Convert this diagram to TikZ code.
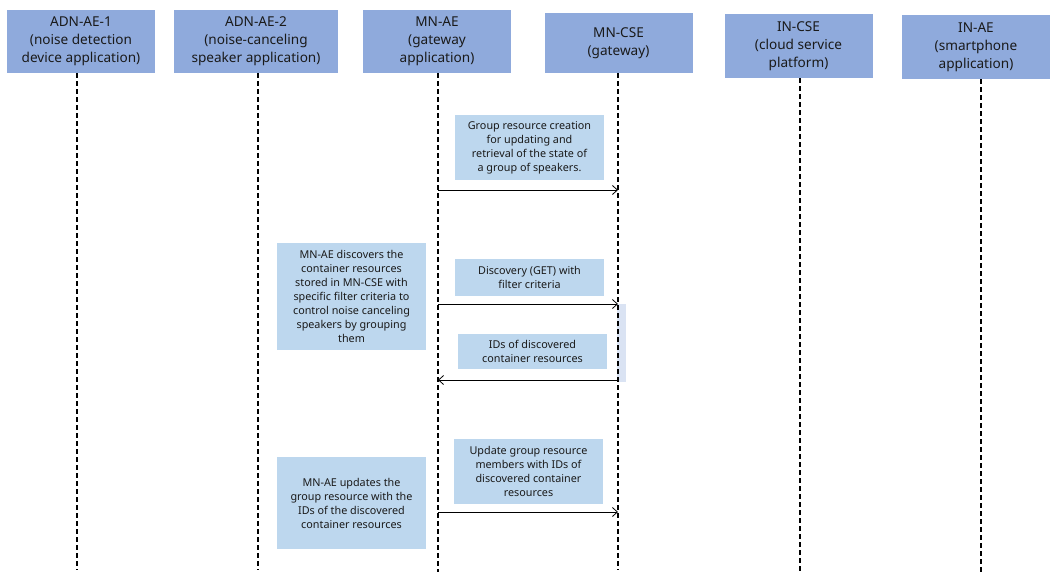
\documentclass[tikz,border=0pt]{standalone}
\usepackage{fontspec}
\setmainfont{Noto Sans}
\usetikzlibrary{arrows.meta}
\definecolor{headblue}{HTML}{8FAADC}
\definecolor{noteblue}{HTML}{BDD7EE}
\definecolor{actblue}{HTML}{DAE3F3}
\definecolor{txt}{HTML}{1A1A1A}
\begin{document}
\begin{tikzpicture}[x=1pt,y=-1pt,
  head/.style={fill=headblue, draw=none, align=center, text=txt, inner sep=0pt,
    font=\fontsize{13.6}{18}\selectfont},
  note/.style={fill=noteblue, draw=none, align=center, text=txt, inner sep=0pt,
    font=\fontsize{10.8}{14}\selectfont},
  life/.style={line width=1.6pt, dash pattern=on 5pt off 3pt},
  msg/.style={line width=0.8pt, -{Straight Barb[length=5pt,width=9pt,line width=0.8pt]}}]
\useasboundingbox (0,0) rectangle (1057,582);
\fill[white] (0,0) rectangle (1057,582);

% participants
\node[head, minimum width=148pt, minimum height=63pt] (ae1) at (81,41.5)
  {ADN-AE-1\\(noise detection\\device application)};
\node[head, minimum width=164pt, minimum height=63pt] (ae2) at (256,41.5)
  {ADN-AE-2\\(noise-canceling\\speaker application)};
\node[head, minimum width=148pt, minimum height=63pt] (mnae) at (437,41.5)
  {MN-AE\\(gateway\\application)};
\node[head, minimum width=148pt, minimum height=60pt] (mncse) at (618.5,43)
  {MN-CSE\\(gateway)};
\node[head, minimum width=148pt, minimum height=64pt] (incse) at (798.5,46)
  {IN-CSE\\(cloud service\\platform)};
\node[head, minimum width=148pt, minimum height=64pt] (inae) at (976,47)
  {IN-AE\\(smartphone\\application)};

% lifeline ends
\coordinate (e1) at (77,570);
\coordinate (e2) at (258,570);
\coordinate (e3) at (438,572);
\coordinate (e4) at (618,570);
\coordinate (e5) at (800,572);
\coordinate (e6) at (981,575);

% activation on MN-CSE
\node[fill=actblue, draw=none, inner sep=0pt, minimum width=9pt, minimum height=78pt, anchor=north west] (act) at (617,304) {};

\draw[life] (ae1.south -| e1) -- (e1);
\draw[life] (ae2.south -| e2) -- (e2);
\draw[life] (mnae.south -| e3) -- (e3);
\draw[life] (mncse.south -| e4) -- (e4);
\draw[life] (incse.south -| e5) -- (e5);
\draw[life] (inae.south -| e6) -- (e6);

% notes
\node[note, minimum width=149pt, minimum height=65pt] (n1) at (529.5,147.5)
  {Group resource creation\\for updating and\\retrieval of the state of\\a group of speakers.};
\node[note, minimum width=149pt, minimum height=37pt] (n2) at (529.5,277.5)
  {Discovery (GET) with\\filter criteria};
\node[note, minimum width=149pt, minimum height=107pt] (n3) at (351.5,296.5)
  {MN-AE discovers the\\container resources\\stored in MN-CSE with\\specific filter criteria to\\control noise canceling\\speakers by grouping\\them};
\node[note, minimum width=149pt, minimum height=35pt] (n4) at (532.5,351.5)
  {IDs of discovered\\container resources};
\node[note, minimum width=149pt, minimum height=65pt] (n5) at (528.5,471.5)
  {Update group resource\\members with IDs of\\discovered container\\resources};
\node[note, minimum width=149pt, minimum height=92pt] (n6) at (351.5,503)
  {MN-AE updates the\\group resource with the\\IDs of the discovered\\container resources};

% messages
\coordinate (m1s) at (438,190); \coordinate (m1e) at (618,190);
\coordinate (m2s) at (438,304); \coordinate (m2e) at (618,304);
\coordinate (m3s) at (618,380); \coordinate (m3e) at (438,380);
\coordinate (m4s) at (438,512); \coordinate (m4e) at (618,512);
\draw[msg] (m1s) -- (m1e);
\draw[msg] (m2s) -- (m2e);
\draw[msg] (m3s) -- (m3e);
\draw[msg] (m4s) -- (m4e);
\end{tikzpicture}
\end{document}
